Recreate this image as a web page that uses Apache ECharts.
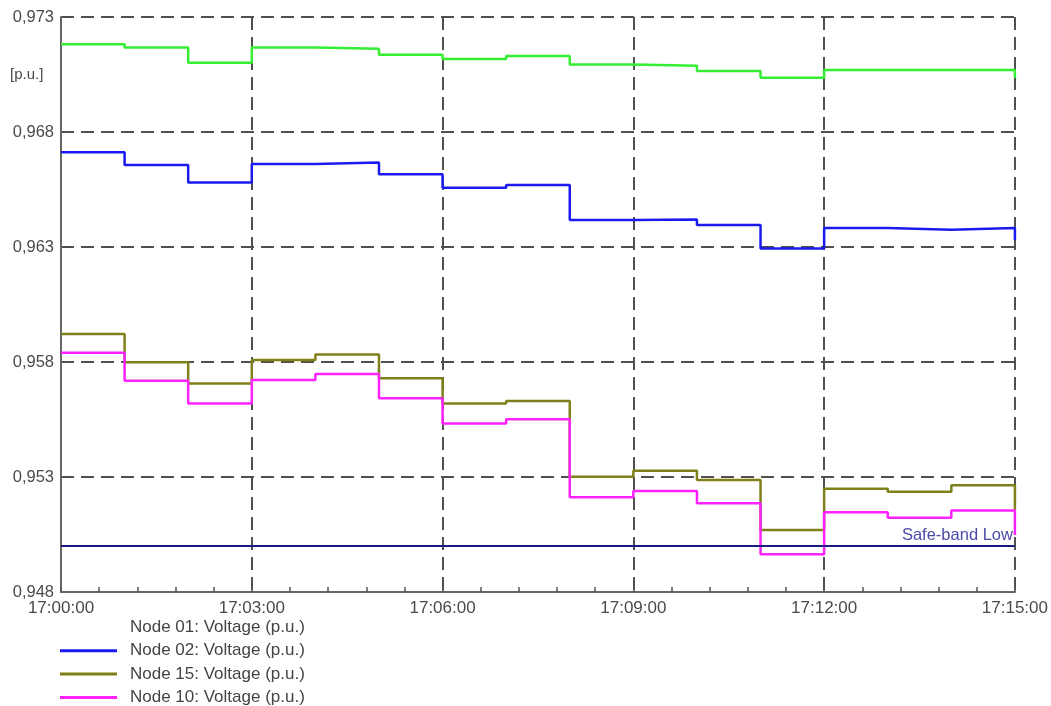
<!DOCTYPE html>
<html>
<head>
<meta charset="utf-8">
<script src="https://cdn.jsdelivr.net/npm/echarts@6/dist/echarts.min.js"></script>
<style>
  html, body { margin: 0; padding: 0; background: #ffffff; }
  #chart { width: 1051px; height: 706px; }
</style>
</head>
<body>
<div id="chart"></div>
<script>
// Sample times (one value per minute; each value holds until the next sample)
const times = ['17:00', '17:01', '17:02', '17:03', '17:04', '17:05', '17:06', '17:07',
               '17:08', '17:09', '17:10', '17:11', '17:12', '17:13', '17:14', '17:15'];

// Tick labels along the time axis (every 3 minutes)
const timeTickLabels = ['17:00:00', '17:03:00', '17:06:00', '17:09:00', '17:12:00', '17:15:00'];

// Node voltages in p.u.
const node01 = [0.97181, 0.97167, 0.97101, 0.97167, 0.97162, 0.97136, 0.97117, 0.97130,
                0.97094, 0.97088, 0.97065, 0.97036, 0.97070, 0.97070, 0.97070, 0.97035];
const node02 = [0.96712, 0.96657, 0.96580, 0.96661, 0.96667, 0.96616, 0.96558, 0.96570,
                0.96417, 0.96420, 0.96396, 0.96293, 0.96383, 0.96375, 0.96383, 0.96330];
const node15 = [0.95922, 0.95799, 0.95706, 0.95809, 0.95833, 0.95729, 0.95620, 0.95630,
                0.95301, 0.95327, 0.95287, 0.95070, 0.95249, 0.95236, 0.95264, 0.95156];
const node10 = [0.95840, 0.95719, 0.95620, 0.95722, 0.95748, 0.95642, 0.95533, 0.95551,
                0.95212, 0.95239, 0.95186, 0.94964, 0.95147, 0.95123, 0.95154, 0.95048];

// Lower limit of the safe voltage band
const safeBandLow = 0.950;

// Series names
const seriesNames = ['Node 01: Voltage (p.u.)', 'Node 02: Voltage (p.u.)',
                     'Node 15: Voltage (p.u.)', 'Node 10: Voltage (p.u.)'];

function minutesOf(t) {
  const [h, m] = t.split(':').map(Number);
  return (h - 17) * 60 + m;
}
function pairs(values) {
  return times.map((t, i) => [minutesOf(t), values[i]]);
}

const FONT = '"Liberation Sans", Arial, sans-serif';
const colors = ['#33ee33', '#1a1af0', '#80801a', '#ff22ff'];
const seriesValues = [node01, node02, node15, node10];

const chart = echarts.init(document.getElementById('chart'));

const series = seriesValues.map((vals, i) => ({
  name: seriesNames[i],
  type: 'line',
  step: 'end',
  showSymbol: false,
  symbol: 'none',
  data: pairs(vals),
  lineStyle: { color: colors[i], width: 2.5 },
  itemStyle: { color: colors[i] },
  z: 3
}));

series[3].markLine = {
  silent: true,
  symbol: 'none',
  animation: false,
  lineStyle: { color: '#1c1c80', width: 2, type: 'solid' },
  label: {
    show: true,
    position: 'insideEndTop',
    formatter: 'Safe-band Low',
    color: '#4a4aa6',
    fontFamily: FONT,
    fontSize: 16.5,
    distance: 2
  },
  data: [{ yAxis: safeBandLow }]
};

const gridDash = { color: '#505050', width: 2, type: [13, 7] };

chart.setOption({
  animation: false,
  backgroundColor: '#ffffff',
  grid: { left: 61, right: 36, top: 17, bottom: 114, containLabel: false },
  xAxis: {
    type: 'value',
    min: 0,
    max: 15,
    interval: 3,
    axisLine: { show: true, lineStyle: { color: '#666', width: 2 } },
    axisTick: { show: true, inside: true, length: 5, lineStyle: { color: '#555', width: 1.5 } },
    minorTick: { show: true, splitNumber: 5, length: 5, lineStyle: { color: '#555', width: 1.5 } },
    splitLine: { show: true, lineStyle: gridDash },
    axisLabel: {
      color: '#4a4a4a',
      fontFamily: FONT,
      fontSize: 17,
      margin: 8,
      formatter: v => timeTickLabels[Math.round(v / 3)]
    }
  },
  yAxis: {
    type: 'value',
    min: 0.948,
    max: 0.973,
    interval: 0.005,
    axisLine: { show: true, lineStyle: { color: '#666', width: 2 } },
    axisTick: { show: false },
    splitLine: { show: true, lineStyle: gridDash },
    axisLabel: {
      color: '#4a4a4a',
      fontFamily: FONT,
      fontSize: 16.5,
      margin: 7,
      formatter: v => v.toFixed(3).replace('.', ',')
    }
  },
  legend: {
    orient: 'vertical',
    left: 60,
    top: 619,
    padding: 0,
    itemGap: 6.3,
    itemWidth: 57,
    itemHeight: 3,
    icon: 'rect',
    selectedMode: false,
    textStyle: { color: '#444', fontFamily: FONT, fontSize: 17, lineHeight: 17, padding: [0, 0, 0, 8] },
    data: [
      { name: seriesNames[0], itemStyle: { opacity: 0 } },
      { name: seriesNames[1] },
      { name: seriesNames[2] },
      { name: seriesNames[3] }
    ]
  },
  graphic: [{
    type: 'text',
    left: 10,
    top: 67,
    style: { text: '[p.u.]', fill: '#4a4a4a', font: '15px ' + FONT }
  }],
  series: series
});
</script>
</body>
</html>
